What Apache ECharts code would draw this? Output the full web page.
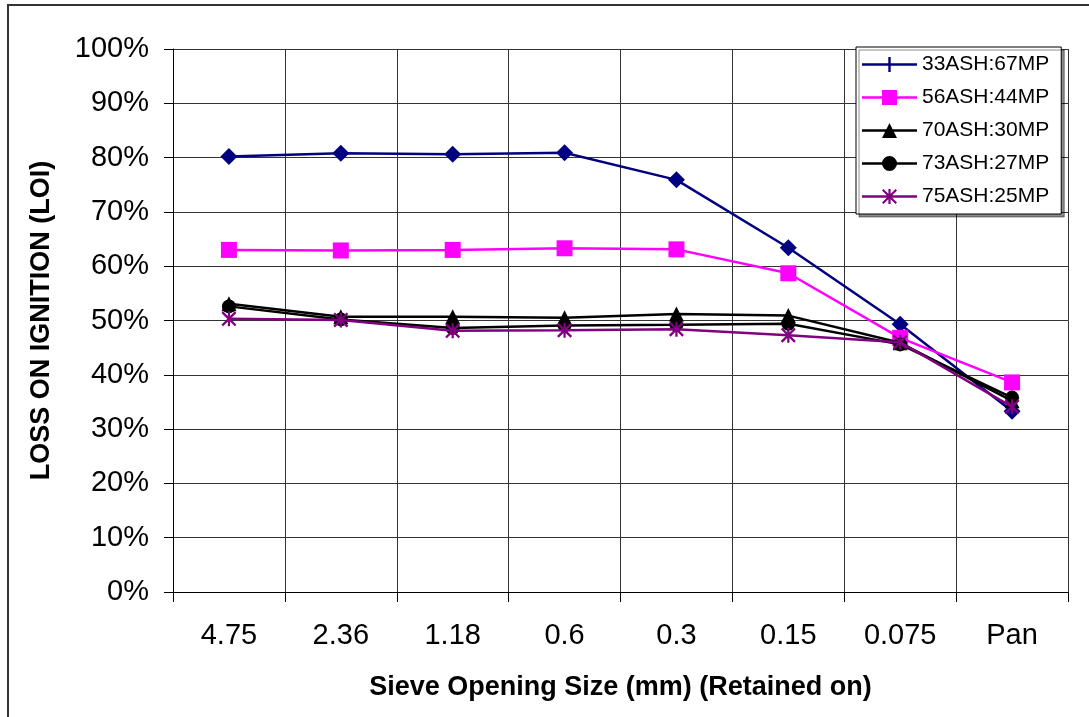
<!DOCTYPE html>
<html>
<head>
<meta charset="utf-8">
<script src="https://cdn.jsdelivr.net/npm/echarts@6/dist/echarts.min.js"></script>
<style>
html,body{margin:0;padding:0;background:#fff;}
#chart{width:1089px;height:717px;}
</style>
</head>
<body>
<div id="chart"></div>
<script>
const categories = ['4.75', '2.36', '1.18', '0.6', '0.3', '0.15', '0.075', 'Pan'];
const seriesNames = ['33ASH:67MP', '56ASH:44MP', '70ASH:30MP', '73ASH:27MP', '75ASH:25MP'];
const s33 = [80.2, 80.8, 80.6, 80.9, 75.9, 63.4, 49.3, 33.3];
const s56 = [63.0, 62.9, 63.0, 63.3, 63.1, 58.7, 46.8, 38.6];
const s70 = [53.1, 50.7, 50.7, 50.5, 51.2, 50.9, 45.9, 35.2];
const s73 = [52.6, 50.2, 48.6, 49.1, 49.2, 49.4, 45.6, 35.8];
const s75 = [50.3, 50.1, 48.1, 48.2, 48.4, 47.3, 46.0, 34.1];
const yTicks = { min: 0, max: 100, interval: 10 };

const FONT = "'Liberation Sans', Arial, sans-serif";
const colors = ['#000080', '#FF00FF', '#000000', '#000000', '#800080'];

const starPath = 'path://M8.5,0L11.5,0L11.5,20L8.5,20Z M0,2.2L2.2,0L20,17.8L17.8,20Z M17.8,0L20,2.2L2.2,20L0,17.8Z';
const legLine = 'M0,6.3L55,6.3L55,8.7L0,8.7Z ';
const legendIcons = [
  'path://' + legLine + 'M26.3,0L28.7,0L28.7,15L26.3,15Z',
  'path://' + legLine + 'M20,0L35,0L35,15L20,15Z',
  'path://' + legLine + 'M27.5,0L35,15L20,15Z',
  'path://' + legLine + 'M20,7.5A7.5,7.5 0 1,1 35,7.5A7.5,7.5 0 1,1 20,7.5Z',
  'path://' + legLine + 'M26.4,0L28.6,0L28.6,15L26.4,15Z M20,1.5L21.5,0L35,13.5L33.5,15Z M33.5,0L35,1.5L21.5,15L20,13.5Z'
];
const symbols = ['diamond', 'rect', 'triangle', 'circle', starPath];
const symbolSizes = [17, 16, 15, 14, 15];
const allData = [s33, s56, s70, s73, s75];

const chart = echarts.init(document.getElementById('chart'), null, { renderer: 'canvas' });

const series = allData.map((d, i) => ({
  name: seriesNames[i],
  type: 'line',
  data: d,
  symbol: symbols[i],
  symbolSize: symbolSizes[i],
  showAllSymbol: true,
  lineStyle: { color: colors[i], width: 2.5 },
  itemStyle: { color: colors[i], borderWidth: 0 },
  emphasis: { disabled: true },
  animation: false,
  z: 3 + i
}));

chart.setOption({
  animation: false,
  backgroundColor: '#fff',
  textStyle: { fontFamily: FONT },
  graphic: [{
    type: 'rect',
    shape: { x: 8, y: 5, width: 1200, height: 800 },
    style: { fill: 'none', stroke: '#333', lineWidth: 2 },
    silent: true,
    z: -1
  }],
  grid: { left: 173, right: 21, top: 49, bottom: 125, containLabel: false },
  legend: {
    orient: 'vertical',
    left: 856,
    top: 47,
    padding: [7, 12, 7, 6],
    itemWidth: 55,
    itemHeight: 15,
    itemGap: 12,
    backgroundColor: '#fff',
    borderColor: '#000',
    borderWidth: 1,
    shadowColor: 'rgba(0,0,0,0.45)',
    shadowOffsetX: 3,
    shadowOffsetY: 3,
    shadowBlur: 0,
    selectedMode: false,
    itemStyle: { borderWidth: 0 },
    textStyle: { fontSize: 21, color: '#000', fontFamily: FONT },
    data: seriesNames.map((n, i) => ({ name: n, icon: legendIcons[i], itemStyle: { color: colors[i] } }))
  },
  xAxis: {
    type: 'category',
    data: categories,
    boundaryGap: true,
    name: 'Sieve Opening Size (mm) (Retained on)',
    nameLocation: 'middle',
    nameGap: 82,
    nameTextStyle: { fontSize: 27, fontWeight: 'bold', color: '#000', fontFamily: FONT },
    axisLine: { lineStyle: { color: '#000', width: 1 } },
    axisTick: { show: true, inside: false, length: 10, lineStyle: { color: '#000' } },
    axisLabel: { fontSize: 29, color: '#000', margin: 29, fontFamily: FONT },
    splitLine: { show: true, lineStyle: { color: '#333', width: 1 } }
  },
  yAxis: {
    type: 'value',
    min: yTicks.min,
    max: yTicks.max,
    interval: yTicks.interval,
    name: 'LOSS ON IGNITION (LOI)',
    nameLocation: 'middle',
    nameGap: 118,
    nameTextStyle: { fontSize: 27, fontWeight: 'bold', color: '#000', fontFamily: FONT },
    axisLine: { show: true, lineStyle: { color: '#000', width: 1 } },
    axisTick: { show: true, inside: false, length: 9, lineStyle: { color: '#000' } },
    axisLabel: { fontSize: 29, color: '#000', margin: 24, formatter: '{value}%', fontFamily: FONT },
    splitLine: { show: true, lineStyle: { color: '#333', width: 1 } }
  },
  series: series
});
</script>
</body>
</html>
